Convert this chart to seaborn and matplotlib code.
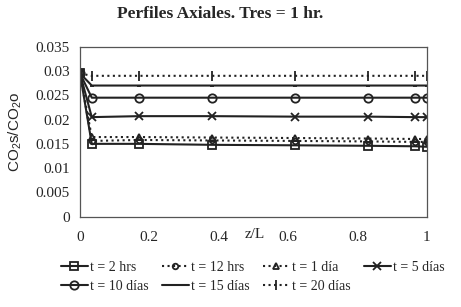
import matplotlib
matplotlib.use("Agg")
import matplotlib.pyplot as plt
import seaborn as sns
import pandas as pd

# Data (collocation points along z/L)
z_points = [0, 0.034, 0.169, 0.381, 0.619, 0.831, 0.966, 1.0]
series_names = ["t = 2 hrs", "t = 12 hrs", "t = 1 día", "t = 5 días",
                "t = 10 días", "t = 15 días", "t = 20 días"]
y_2hrs = [0.0295, 0.0150, 0.0150, 0.0148, 0.0147, 0.0146, 0.0145, 0.0144]
y_12hrs = [0.0295, 0.0156, 0.0158, 0.0157, 0.0156, 0.0155, 0.0154, 0.0154]
y_1dia = [0.0295, 0.0164, 0.0164, 0.0163, 0.0162, 0.0161, 0.0160, 0.0160]
y_5dias = [0.0295, 0.0205, 0.0207, 0.0207, 0.0206, 0.0206, 0.0205, 0.0205]
y_10dias = [0.0295, 0.0245, 0.0245, 0.0245, 0.0245, 0.0245, 0.0245, 0.0245]
y_15dias = [0.0295, 0.0270, 0.0270, 0.0270, 0.0270, 0.0270, 0.0270, 0.0270]
y_20dias = [0.0295, 0.0290, 0.0290, 0.0290, 0.0290, 0.0290, 0.0290, 0.0290]
y_ticks = [0, 0.005, 0.01, 0.015, 0.02, 0.025, 0.03, 0.035]
x_ticks = [0, 0.2, 0.4, 0.6, 0.8, 1]

all_values = [y_2hrs, y_12hrs, y_1dia, y_5dias, y_10dias, y_15dias, y_20dias]
frame = pd.DataFrame({
    "z": z_points * len(series_names),
    "value": [v for vals in all_values for v in vals],
    "serie": [name for name in series_names for _ in z_points],
})

# Styles for each curve
markers = {"t = 2 hrs": "s", "t = 12 hrs": "o", "t = 1 día": "^", "t = 5 días": "x",
           "t = 10 días": "o", "t = 15 días": "_", "t = 20 días": "|"}
sizes = {"t = 2 hrs": 6, "t = 12 hrs": 4, "t = 1 día": 4, "t = 5 días": 6,
         "t = 10 días": 6, "t = 15 días": 3, "t = 20 días": 7}
dashed = {"t = 2 hrs": "-", "t = 12 hrs": ":", "t = 1 día": ":", "t = 5 días": "-",
          "t = 10 días": "-", "t = 15 días": "-", "t = 20 días": ":"}

sns.set_style("white")
plt.rcParams["font.family"] = ["Liberation Serif", "DejaVu Serif"]
plt.rcParams["mathtext.fontset"] = "custom"
plt.rcParams["mathtext.rm"] = "Liberation Sans"
plt.rcParams["mathtext.it"] = "Liberation Sans"

fig = plt.figure(figsize=(4.61, 3.07), dpi=100)
ax = fig.add_axes([0.1735, 0.294, 0.7525, 0.554])

for name in series_names:
    sub = frame[frame["serie"] == name]
    sns.lineplot(data=sub, x="z", y="value", ax=ax, color="#222222", lw=1.5,
                 linestyle=dashed[name], marker=markers[name], markersize=sizes[name],
                 markerfacecolor="none", markeredgecolor="#222222", markeredgewidth=1.3,
                 label=name)

ax.set_xlim(0, 1)
ax.set_ylim(0, 0.035)
ax.set_xticks(x_ticks)
ax.set_xticklabels(["0", "0.2", "0.4", "0.6", "0.8", "1"])
ax.set_yticks(y_ticks)
ax.set_yticklabels(["0", "0.005", "0.01", "0.015", "0.02", "0.025", "0.03", "0.035"])
ax.tick_params(axis="both", labelsize=11, length=4, color="#444444")
ax.tick_params(axis="x", direction="inout", pad=8)
ax.tick_params(axis="y", direction="out")
for spine in ax.spines.values():
    spine.set_color("#555555")
    spine.set_linewidth(0.9)

ax.set_xlabel("")
ax.set_ylabel(r"CO$_2$s/CO$_2$o", family="Liberation Sans", fontsize=11, labelpad=8)
ax.text(0.505, -0.105, "z/L", transform=ax.transAxes, ha="center", va="center", fontsize=11)

fig.text(0.477, 0.955, "Perfiles Axiales. Tres = 1 hr.", ha="center", va="center",
         fontsize=12.5, fontweight="bold")

# legend filled row by row (matplotlib fills columns first)
handles, labels = ax.get_legend_handles_labels()
order = [0, 4, 1, 5, 2, 6, 3]
ax.legend([handles[i] for i in order], [labels[i] for i in order],
          loc="upper left", bbox_to_anchor=(-0.07, -0.225), ncol=4, frameon=False,
          fontsize=10, handlelength=1.9, handletextpad=0.2, columnspacing=0.95,
          labelspacing=0.45, borderaxespad=0)

fig.savefig("out.png", dpi=100)
